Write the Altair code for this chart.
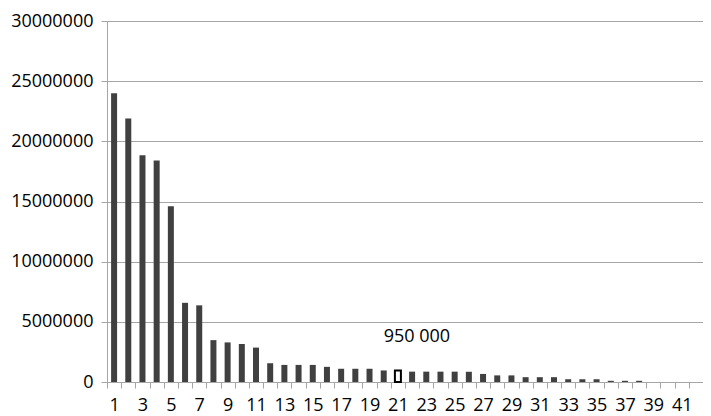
import altair as alt
import pandas as pd

categories = list(range(1, 43))
values = [24000000, 21900000, 18850000, 18400000, 14600000, 6580000, 6370000,
          3480000, 3290000, 3160000, 2860000, 1560000, 1420000, 1420000,
          1420000, 1260000, 1100000, 1100000, 1100000, 960000, 950000,
          860000, 860000, 860000, 860000, 850000, 670000, 550000, 550000,
          400000, 400000, 400000, 230000, 230000, 230000, 100000, 100000,
          100000, 0, 0, 0, 0]
highlight_cat = 21
highlight_label = "950 000"

df = pd.DataFrame({"cat": categories, "value": values})
df["label"] = [highlight_label if c == highlight_cat else "" for c in categories]

FONT = "Open Sans"
GRID = "#a6a6a6"

x = alt.X("cat:O", title=None,
          scale=alt.Scale(paddingInner=0, paddingOuter=0),
          axis=alt.Axis(labelAngle=0, tickBand="extent", tickSize=6,
                        tickColor=GRID, domainColor=GRID, labelPadding=8,
                        labelExpr="datum.value % 2 == 1 ? datum.label : ''",
                        labelFontSize=18, labelFont=FONT, labelColor="black"))
y = alt.Y("value:Q", title=None,
          scale=alt.Scale(domain=[0, 30000000], nice=False),
          axis=alt.Axis(values=list(range(0, 30000001, 5000000)), format="d",
                        tickSize=6, tickColor=GRID, domainColor=GRID,
                        gridColor=GRID, labelPadding=8, labelFontSize=18,
                        labelFont=FONT, labelColor="black"))

bars = alt.Chart(df).mark_bar(width=6).encode(
    x=x, y=y,
    fill=alt.condition(alt.datum.cat == highlight_cat, alt.value("white"), alt.value("#404040")),
    stroke=alt.condition(alt.datum.cat == highlight_cat, alt.value("black"), alt.value("#404040")),
    strokeWidth=alt.condition(alt.datum.cat == highlight_cat, alt.value(2), alt.value(0)),
)

text = alt.Chart(df).transform_filter(alt.datum.cat == highlight_cat).mark_text(
    font=FONT, fontSize=18, color="black", dx=19, dy=-29, baseline="alphabetic", align="center"
).encode(x=x, y=y, text="label:N")

chart = alt.layer(bars, text).properties(
    width=596, height=361,
    padding={"left": 99, "top": 13, "right": 0, "bottom": 34},
    autosize=alt.AutoSizeParams(type="none"),
).configure_view(stroke=None)

chart.save("out.html", embed_options={"renderer": "svg", "actions": False})
